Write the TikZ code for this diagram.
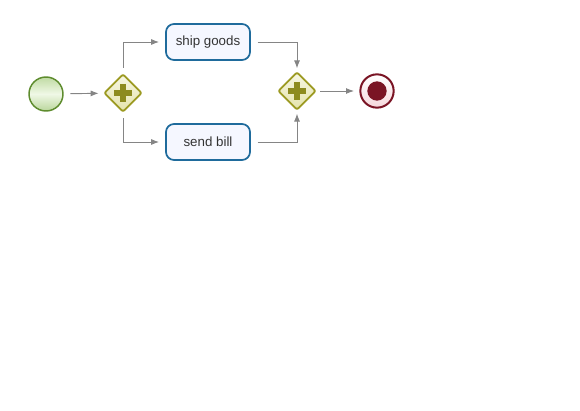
\documentclass[tikz,border=0pt]{standalone}
\usepackage{fontspec}
\setmainfont{Liberation Sans}
\usetikzlibrary{shapes.geometric,arrows.meta}

\definecolor{startline}{HTML}{5E8C2E}
\definecolor{startfill}{HTML}{D8EEC0}
\definecolor{gateline}{HTML}{9C9A22}
\definecolor{gatefill}{HTML}{ECEBBA}
\definecolor{taskline}{HTML}{1F6B9C}
\definecolor{taskfill}{HTML}{F5F7FF}
\definecolor{endline}{HTML}{7A1424}
\definecolor{endfill}{HTML}{F6D8DC}
\definecolor{flowgray}{HTML}{858585}

\tikzset{
  startevent/.style={circle, draw=startline, line width=1.1pt, inner sep=0pt, minimum size=25.5pt,
    top color=startfill!80!startline, bottom color=startfill!75!startline, middle color=startfill!40!white},
  gateway/.style={diamond, draw=gateline, line width=1.4pt, inner sep=0pt, minimum size=28.5pt,
    rounded corners=1.5pt, top color=gatefill!40!white, bottom color=gatefill!90!gateline},
  taskbox/.style={rectangle, draw=taskline, line width=1.3pt, rounded corners=6pt, fill=taskfill,
    minimum width=63pt, minimum height=27pt, inner sep=0pt, font=\fontsize{10}{12}\selectfont, text=black!80},
  endevent/.style={circle, draw=endline, line width=1.5pt, inner sep=0pt, minimum size=25pt,
    top color=white, bottom color=endfill},
  flow/.style={draw=flowgray, line width=0.7pt, -{Latex[length=6pt,width=4.5pt]}}
}

\begin{document}
\begin{tikzpicture}[x=0.75pt,y=0.75pt,yscale=-1,xscale=1]
\useasboundingbox (0,0) rectangle (580,410);

% Events and gateways
\node [startevent] (start) at (46,94) {};
\node [gateway] (split) at (123,93) {};
\node [gateway] (join) at (297,91) {};
\node [endevent] (end) at (377,91) {};
\node [circle, fill=endline, inner sep=0pt, minimum size=14.5pt] (endcore) at (end) {};

% Plus marks
\foreach \g in {split,join}
  \draw [gateline!90!black, line width=4pt] ([xshift=-6.8pt]\g.center) -- ([xshift=6.8pt]\g.center)
    ([yshift=-6.8pt]\g.center) -- ([yshift=6.8pt]\g.center);

% Tasks
\node [taskbox] (ship) at (208,42) {ship goods};
\node [taskbox] (bill) at (208,142) {send bill};

% Sequence flows
\draw [flow, shorten <=5pt, shorten >=3.5pt] (start) -- (split);
\draw [flow, shorten <=4pt, shorten >=4.5pt] (split) |- (ship);
\draw [flow, shorten <=4pt, shorten >=4.5pt] (split) |- (bill);
\draw [flow, shorten <=5pt, shorten >=2pt] (ship) -| (join);
\draw [flow, shorten <=5pt, shorten >=2pt] (bill) -| (join);
\draw [flow, shorten <=2.5pt, shorten >=4pt] (join) -- (end);
\end{tikzpicture}
\end{document}
